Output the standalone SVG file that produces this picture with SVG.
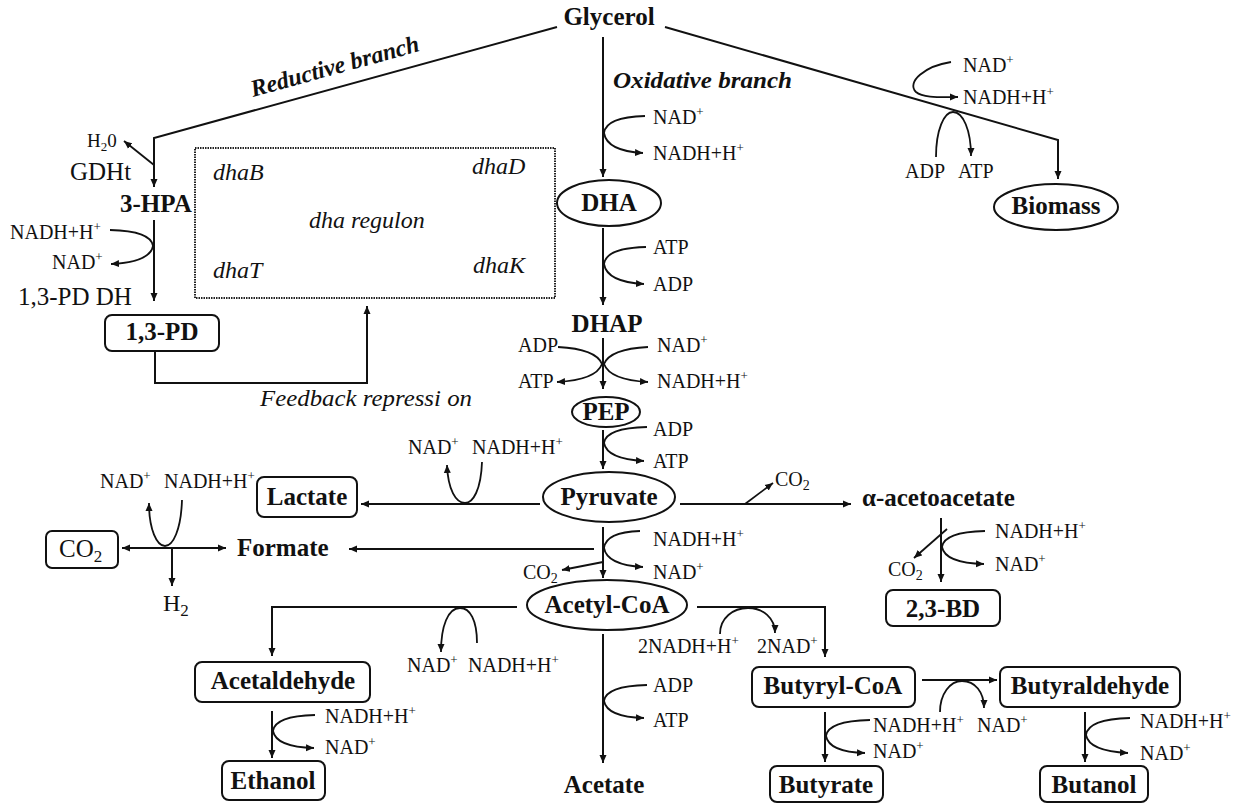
<svg xmlns="http://www.w3.org/2000/svg" width="1251" height="803" viewBox="0 0 1251 803">
<style>
text{font-family:"Liberation Serif","Times New Roman",serif;fill:#111}
.s{font-size:20px}
.b{font-size:25px;font-weight:bold}
.r{font-size:25px}
.i{font-size:24px;font-style:italic}
.ln{fill:none;stroke:#111;stroke-width:2}
.cv{fill:none;stroke:#111;stroke-width:1.8}
.nd{fill:#fff;stroke:#111;stroke-width:2}
.dot{fill:none;stroke:#222;stroke-width:2;stroke-dasharray:1.5,1}
</style>
<defs>
<marker id="a" markerUnits="userSpaceOnUse" markerWidth="9" markerHeight="8" refX="8" refY="4" orient="auto">
<path d="M0,0.5 L8,4 L0,7.5 z" fill="#111"/>
</marker>
</defs>
<rect width="1251" height="803" fill="#fff"/>

<g id="connectors">
<polyline class="ln" points="557,27 154,138 154,187" marker-end="url(#a)"/>
<line class="ln" x1="603" y1="37" x2="603" y2="177" marker-end="url(#a)"/>
<polyline class="ln" points="665,27 1058,140 1058,179" marker-end="url(#a)"/>
<line class="ln" x1="154" y1="220" x2="154" y2="301" marker-end="url(#a)"/>
<polyline class="ln" points="155,351 155,383 367,383 367,306" marker-end="url(#a)"/>
<line class="ln" x1="603" y1="228" x2="603" y2="305" marker-end="url(#a)"/>
<line class="ln" x1="603" y1="338" x2="603" y2="389" marker-end="url(#a)"/>
<line class="ln" x1="603" y1="430" x2="603" y2="469" marker-end="url(#a)"/>
<line class="ln" x1="540" y1="504" x2="361" y2="504" marker-end="url(#a)"/>
<line class="ln" x1="594" y1="549" x2="349" y2="549" marker-end="url(#a)"/>
<line class="ln" x1="680" y1="504" x2="851" y2="504" marker-end="url(#a)"/>
<line class="ln" x1="603" y1="527" x2="603" y2="578" marker-end="url(#a)"/>
<line class="ln" x1="941" y1="518" x2="941" y2="582" marker-end="url(#a)"/>
<polyline class="ln" points="517,607 272,607 272,656" marker-end="url(#a)"/>
<line class="ln" x1="272" y1="711" x2="272" y2="758" marker-end="url(#a)"/>
<line class="ln" x1="603" y1="634" x2="603" y2="763" marker-end="url(#a)"/>
<polyline class="ln" points="697,607 825,607 825,657" marker-end="url(#a)"/>
<line class="ln" x1="825" y1="712" x2="825" y2="762" marker-end="url(#a)"/>
<line class="ln" x1="922" y1="680" x2="997" y2="680" marker-end="url(#a)"/>
<line class="ln" x1="1085" y1="712" x2="1085" y2="762" marker-end="url(#a)"/>
<line class="ln" x1="172" y1="548" x2="122" y2="548" marker-end="url(#a)"/>
<line class="ln" x1="172" y1="548" x2="226" y2="548" marker-end="url(#a)"/>
<line class="ln" x1="172" y1="548" x2="172" y2="586" marker-end="url(#a)"/>
<line class="cv" x1="154" y1="165" x2="124" y2="141" marker-end="url(#a)"/>
<line class="cv" x1="745" y1="504" x2="773" y2="483" marker-end="url(#a)"/>
<line class="cv" x1="603" y1="562" x2="562" y2="570" marker-end="url(#a)"/>
<line class="cv" x1="947" y1="529" x2="914" y2="558" marker-end="url(#a)"/>
<path class="cv" d="M645,116 Q606,117 604,133 Q607,151 643,153" marker-end="url(#a)"/>
<path class="cv" d="M646,247 Q606,248 604,264 Q607,282 644,284" marker-end="url(#a)"/>
<path class="cv" d="M648,347 Q610,349 604,364 Q610,380 648,382" marker-end="url(#a)"/>
<path class="cv" d="M558,347 Q596,349 602,364 Q596,380 557,382" marker-end="url(#a)"/>
<path class="cv" d="M647,427 Q606,428 604,443 Q607,459 644,461" marker-end="url(#a)"/>
<path class="cv" d="M640,531 Q606,532 604,548 Q607,565 643,567" marker-end="url(#a)"/>
<path class="cv" d="M647,685 Q606,686 604,701 Q607,717 644,718" marker-end="url(#a)"/>
<path class="cv" d="M315,715 Q275,716 273,731 Q276,747 314,748" marker-end="url(#a)"/>
<path class="cv" d="M985,531 Q944,532 942,547 Q945,563 984,564" marker-end="url(#a)"/>
<path class="cv" d="M870,720 Q828,721 826,736 Q829,752 865,753" marker-end="url(#a)"/>
<path class="cv" d="M1130,718 Q1088,719 1086,735 Q1089,751 1128,753" marker-end="url(#a)"/>
<path class="cv" d="M110,230 Q151,231 153,246 Q150,262 111,264" marker-end="url(#a)"/>
<path class="cv" d="M482,462 C481,490 473,503 465,503 C456,503 448,490 447,465" marker-end="url(#a)"/>
<path class="cv" d="M182,500 C181,530 173,546 165,546 C157,546 149,530 149,503" marker-end="url(#a)"/>
<path class="cv" d="M477,643 C477,620 470,608 460,608 C448,608 441,626 441,652" marker-end="url(#a)"/>
<path class="cv" d="M720,634 C720,618 733,608 748,608 C763,608 775,618 775,633" marker-end="url(#a)"/>
<path class="cv" d="M940,712 C940,694 950,681 962,681 C975,681 984,692 984,708" marker-end="url(#a)"/>
<path class="cv" d="M936,157 C936,130 944,112 953,112 C963,112 971,130 971,156" marker-end="url(#a)"/>
<path class="cv" d="M951,62 C925,66 906,82 916,92 C923,98 940,97 958,97" marker-end="url(#a)"/>
</g>

<g id="glycerol"><text class="b" x="609" y="25" text-anchor="middle">Glycerol</text></g>
<g id="reductive-label"><text x="253" y="97" transform="rotate(-15.4 253 97)" style="font-size:24px;font-weight:bold;font-style:italic">Reductive branch</text></g>
<g id="oxidative-label"><text x="613" y="88" style="font-size:24px;font-style:italic;font-weight:bold" textLength="179" lengthAdjust="spacingAndGlyphs">Oxidative branch</text></g>

<g id="dha-regulon">
<rect class="dot" x="195" y="148" width="360" height="150"/>
<text class="i" x="213" y="180">dhaB</text>
<text class="i" x="472" y="174">dhaD</text>
<text class="i" x="309" y="228">dha regulon</text>
<text class="i" x="213" y="278">dhaT</text>
<text class="i" x="473" y="273">dhaK</text>
</g>

<g id="gdht-labels">
<text x="87" y="147" style="font-size:19px">H<tspan dy="4" font-size="13">2</tspan><tspan dy="-4">0</tspan></text>
<text class="r" x="70" y="180">GDHt</text>
</g>
<g id="hpa"><text class="b" x="120" y="212">3-HPA</text></g>
<g id="pddh-labels">
<text class="s" x="10" y="239">NADH+H<tspan font-size="13" dy="-8">+</tspan></text>
<text class="s" x="52" y="269">NAD<tspan font-size="13" dy="-8">+</tspan></text>
<text class="r" x="18" y="305">1,3-PD DH</text>
</g>
<g id="pd13"><rect class="nd" x="105" y="315" width="114" height="36" rx="7"/><text class="b" x="162" y="340" text-anchor="middle">1,3-PD</text></g>
<g id="feedback-label"><text x="260" y="406" style="font-size:23px;font-style:italic" textLength="212" lengthAdjust="spacingAndGlyphs">Feedback repressi on</text></g>

<g id="dha"><ellipse class="nd" cx="609" cy="203" rx="52" ry="23"/><text class="b" x="609" y="211" text-anchor="middle">DHA</text></g>
<g id="dha-cofactors">
<text class="s" x="653" y="124">NAD<tspan font-size="13" dy="-8">+</tspan></text>
<text class="s" x="653" y="160">NADH+H<tspan font-size="13" dy="-8">+</tspan></text>
</g>
<g id="biomass"><ellipse class="nd" cx="1056" cy="207" rx="62" ry="23"/><text class="b" x="1056" y="214" text-anchor="middle">Biomass</text></g>
<g id="biomass-cofactors">
<text class="s" x="963" y="72">NAD<tspan font-size="13" dy="-8">+</tspan></text>
<text class="s" x="963" y="104">NADH+H<tspan font-size="13" dy="-8">+</tspan></text>
<text class="s" x="905" y="178">ADP</text>
<text class="s" x="958" y="178">ATP</text>
</g>
<g id="dhak-cofactors">
<text class="s" x="653" y="254">ATP</text>
<text class="s" x="653" y="291">ADP</text>
</g>
<g id="dhap"><text class="b" x="607" y="332" text-anchor="middle">DHAP</text></g>
<g id="dhap-cofactors">
<text class="s" x="518" y="352">ADP</text>
<text class="s" x="518" y="388">ATP</text>
<text class="s" x="657" y="352">NAD<tspan font-size="13" dy="-8">+</tspan></text>
<text class="s" x="657" y="388">NADH+H<tspan font-size="13" dy="-8">+</tspan></text>
</g>
<g id="pep"><ellipse class="nd" cx="606" cy="412" rx="34" ry="15"/><text class="b" x="606" y="420" text-anchor="middle">PEP</text></g>
<g id="pep-cofactors">
<text class="s" x="653" y="436">ADP</text>
<text class="s" x="653" y="468">ATP</text>
</g>
<g id="pyruvate"><ellipse class="nd" cx="609" cy="497" rx="66" ry="25"/><text class="b" x="609" y="505" text-anchor="middle">Pyruvate</text></g>
<g id="lactate-cofactors">
<text class="s" x="408" y="454">NAD<tspan font-size="13" dy="-8">+</tspan></text>
<text class="s" x="472" y="454">NADH+H<tspan font-size="13" dy="-8">+</tspan></text>
</g>
<g id="lactate"><rect class="nd" x="257" y="477" width="100" height="40" rx="7"/><text class="b" x="307" y="505" text-anchor="middle">Lactate</text></g>
<g id="formate"><text class="b" x="237" y="556">Formate</text></g>
<g id="formate-cofactors">
<text class="s" x="100" y="488">NAD<tspan font-size="13" dy="-8">+</tspan></text>
<text class="s" x="164" y="488">NADH+H<tspan font-size="13" dy="-8">+</tspan></text>
</g>
<g id="co2-box"><rect class="nd" x="46" y="531" width="72" height="37" rx="6"/><text class="r" x="59" y="557">CO<tspan font-size="17" dy="5">2</tspan></text></g>
<g id="h2"><text x="163" y="611" style="font-size:24px">H<tspan font-size="17" dy="5">2</tspan></text></g>
<g id="alsd-co2"><text class="s" x="775" y="486">CO<tspan font-size="14" dy="4">2</tspan></text></g>
<g id="acetoacetate"><text class="b" x="862" y="506">α-acetoacetate</text></g>
<g id="bd-cofactors">
<text class="s" x="995" y="538">NADH+H<tspan font-size="13" dy="-8">+</tspan></text>
<text class="s" x="995" y="571">NAD<tspan font-size="13" dy="-8">+</tspan></text>
<text class="s" x="888" y="576">CO<tspan font-size="14" dy="4">2</tspan></text>
</g>
<g id="bd23"><rect class="nd" x="886" y="590" width="114" height="36" rx="7"/><text class="b" x="943" y="617" text-anchor="middle">2,3-BD</text></g>
<g id="pfl-cofactors">
<text class="s" x="653" y="546">NADH+H<tspan font-size="13" dy="-8">+</tspan></text>
<text class="s" x="653" y="579">NAD<tspan font-size="13" dy="-8">+</tspan></text>
<text class="s" x="523" y="579">CO<tspan font-size="14" dy="4">2</tspan></text>
</g>
<g id="acetyl-coa"><ellipse class="nd" cx="607" cy="605" rx="80" ry="25"/><text class="b" x="607" y="613" text-anchor="middle">Acetyl-CoA</text></g>
<g id="acetaldehyde-cofactors">
<text class="s" x="407" y="672">NAD<tspan font-size="13" dy="-8">+</tspan></text>
<text class="s" x="468" y="672">NADH+H<tspan font-size="13" dy="-8">+</tspan></text>
</g>
<g id="butyryl-cofactors">
<text class="s" x="638" y="653">2NADH+H<tspan font-size="13" dy="-8">+</tspan></text>
<text class="s" x="757" y="653">2NAD<tspan font-size="13" dy="-8">+</tspan></text>
</g>
<g id="acetaldehyde"><rect class="nd" x="195" y="662" width="175" height="40" rx="7"/><text class="b" x="283" y="689" text-anchor="middle">Acetaldehyde</text></g>
<g id="ethanol-cofactors">
<text class="s" x="325" y="723">NADH+H<tspan font-size="13" dy="-8">+</tspan></text>
<text class="s" x="325" y="754">NAD<tspan font-size="13" dy="-8">+</tspan></text>
</g>
<g id="ethanol"><rect class="nd" x="222" y="761" width="103" height="39" rx="7"/><text class="b" x="273" y="789" text-anchor="middle">Ethanol</text></g>
<g id="acetate-cofactors">
<text class="s" x="653" y="692">ADP</text>
<text class="s" x="653" y="727">ATP</text>
</g>
<g id="acetate"><text class="b" x="604" y="793" text-anchor="middle">Acetate</text></g>
<g id="butyryl-coa"><rect class="nd" x="752" y="667" width="163" height="40" rx="7"/><text class="b" x="833" y="694" text-anchor="middle">Butyryl-CoA</text></g>
<g id="butyrate-cofactors">
<text class="s" x="873" y="732">NADH+H<tspan font-size="13" dy="-8">+</tspan></text>
<text class="s" x="977" y="732">NAD<tspan font-size="13" dy="-8">+</tspan></text>
<text class="s" x="873" y="758">NAD<tspan font-size="13" dy="-8">+</tspan></text>
</g>
<g id="butyrate"><rect class="nd" x="770" y="766" width="113" height="36" rx="7"/><text class="b" x="826" y="793" text-anchor="middle">Butyrate</text></g>
<g id="butyraldehyde"><rect class="nd" x="1000" y="667" width="180" height="40" rx="7"/><text class="b" x="1090" y="694" text-anchor="middle">Butyraldehyde</text></g>
<g id="butanol-cofactors">
<text class="s" x="1140" y="728">NADH+H<tspan font-size="13" dy="-8">+</tspan></text>
<text class="s" x="1140" y="760">NAD<tspan font-size="13" dy="-8">+</tspan></text>
</g>
<g id="butanol"><rect class="nd" x="1040" y="766" width="108" height="36" rx="7"/><text class="b" x="1094" y="793" text-anchor="middle">Butanol</text></g>
</svg>
